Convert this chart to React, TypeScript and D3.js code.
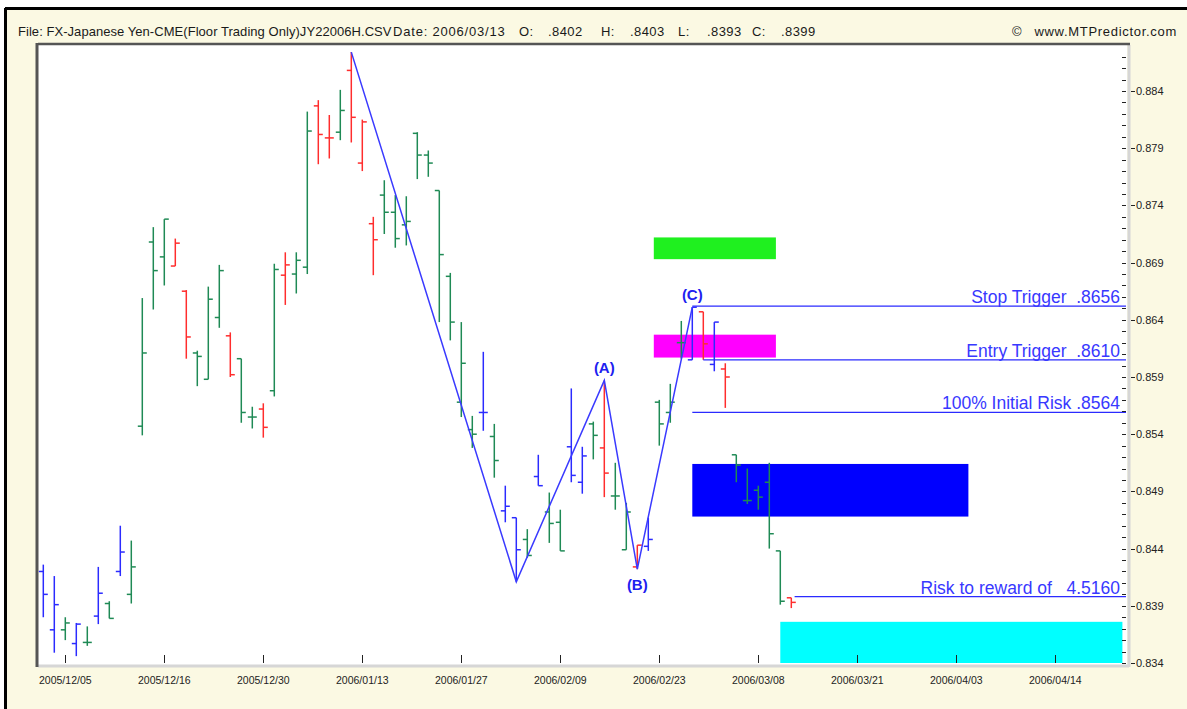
import React from 'react';
import * as d3 from 'd3';

// OHLC bars, one per trading day starting 2005/12/01
const opens = [
  0.8420, 0.8369, 0.8369, 0.8357, 0.8358, 0.8381, 0.8392, 0.8420, 0.8400, 0.8547,
  0.8708, 0.8695, 0.8687, 0.8665, 0.8611, 0.8588, 0.8642, 0.8626, 0.8606, 0.8555,
  0.8562, 0.8578, 0.8679, 0.8680, 0.8686, 0.8827, 0.8799, 0.8804, 0.8858, 0.8777,
  0.8724, 0.8749, 0.8734, 0.8723, 0.8803, 0.8784, 0.8753, 0.8678, 0.8568, 0.8544,
  0.8559, 0.8538, 0.8473, 0.8467, 0.8448, 0.8503, 0.8472, 0.8463, 0.8529, 0.8498,
  0.8549, 0.8528, 0.8486, 0.8439, 0.8424, 0.8442, 0.8568, 0.8559, 0.8620, 0.8605,
  0.8647, 0.8601, 0.8597, 0.8522, 0.8482, 0.8491, 0.8498, 0.8438, 0.8397,
];
const highs = [
  0.8426, 0.8416, 0.8380, 0.8375, 0.8372, 0.8424, 0.8394, 0.8460, 0.8447, 0.8659,
  0.8721, 0.8728, 0.8711, 0.8666, 0.8613, 0.8669, 0.8688, 0.8629, 0.8606, 0.8564,
  0.8567, 0.8689, 0.8699, 0.8699, 0.8822, 0.8832, 0.8819, 0.8841, 0.8874, 0.8815,
  0.8730, 0.8762, 0.8749, 0.8748, 0.8804, 0.8788, 0.8753, 0.8681, 0.8638, 0.8556,
  0.8612, 0.8549, 0.8495, 0.8467, 0.8457, 0.8522, 0.8489, 0.8474, 0.8580, 0.8529,
  0.8551, 0.8587, 0.8515, 0.8480, 0.8443, 0.8467, 0.8570, 0.8584, 0.8639, 0.8651,
  0.8647, 0.8638, 0.8602, 0.8522, 0.8510, 0.8495, 0.8515, 0.8438, 0.8397,
];
const lows = [
  0.8380, 0.8349, 0.8360, 0.8346, 0.8355, 0.8374, 0.8379, 0.8416, 0.8392, 0.8539,
  0.8649, 0.8670, 0.8687, 0.8606, 0.8582, 0.8588, 0.8633, 0.8590, 0.8550, 0.8545,
  0.8537, 0.8573, 0.8653, 0.8663, 0.8680, 0.8776, 0.8781, 0.8797, 0.8795, 0.8770,
  0.8679, 0.8715, 0.8703, 0.8705, 0.8763, 0.8765, 0.8638, 0.8622, 0.8555, 0.8528,
  0.8543, 0.8502, 0.8463, 0.8411, 0.8432, 0.8495, 0.8445, 0.8438, 0.8498, 0.8488,
  0.8518, 0.8485, 0.8474, 0.8439, 0.8422, 0.8438, 0.8530, 0.8550, 0.8606, 0.8605,
  0.8605, 0.8595, 0.8563, 0.8498, 0.8479, 0.8474, 0.8440, 0.8391, 0.8388,
];
const closes = [
  0.8400, 0.8391, 0.8375, 0.8374, 0.8358, 0.8401, 0.8379, 0.8437, 0.8424, 0.8611,
  0.8683, 0.8728, 0.8707, 0.8625, 0.8608, 0.8658, 0.8683, 0.8592, 0.8559, 0.8555,
  0.8546, 0.8684, 0.8688, 0.8692, 0.8805, 0.8802, 0.8799, 0.8823, 0.8817, 0.8813,
  0.8710, 0.8734, 0.8711, 0.8726, 0.8784, 0.8777, 0.8697, 0.8638, 0.8602, 0.8540,
  0.8559, 0.8517, 0.8477, 0.8439, 0.8434, 0.8495, 0.8462, 0.8438, 0.8504, 0.8521,
  0.8539, 0.8506, 0.8486, 0.8472, 0.8443, 0.8448, 0.8549, 0.8568, 0.8620, 0.8651,
  0.8619, 0.8638, 0.8590, 0.8513, 0.8482, 0.8485, 0.8453, 0.8394, 0.8393,
];
const barKinds = [
  'b', 'b', 'g', 'b', 'g', 'b', 'g', 'b', 'g', 'g',
  'g', 'g', 'r', 'r', 'g', 'g', 'g', 'r', 'g', 'g',
  'r', 'g', 'r', 'g', 'g', 'r', 'r', 'g', 'r', 'r',
  'r', 'g', 'g', 'g', 'g', 'g', 'g', 'g', 'g', 'g',
  'b', 'g', 'b', 'b', 'g', 'b', 'g', 'g', 'b', 'b',
  'g', 'r', 'g', 'g', 'r', 'b', 'g', 'g', 'g', 'b',
  'r', 'b', 'r', 'g', 'g', 'g', 'g', 'g', 'r',
];
const kindColor: Record<string, string> = { b: '#2b2bff', g: '#1f8a55', r: '#ff2d2d' };

// x axis (bar index of each labelled date)
const dateTicks = [2, 11, 20, 29, 38, 47, 56, 65, 74, 83, 92];
const dateLabels = [
  '2005/12/05', '2005/12/16', '2005/12/30', '2006/01/13', '2006/01/27', '2006/02/09',
  '2006/02/23', '2006/03/08', '2006/03/21', '2006/04/03', '2006/04/14',
];
const priceLabels = [0.834, 0.839, 0.844, 0.849, 0.854, 0.859, 0.864, 0.869, 0.874, 0.879, 0.884];

// header quote
const quoteKeys = ['O:', 'H:', 'L:', 'C:'];
const quoteValues = ['.8402', '.8403', '.8393', '.8399'];
const quoteX = [519, 601, 678, 752];

// ABC swing
const zigBars = [28, 43, 51, 54, 59];
const zigPrices = [0.8874, 0.8411, 0.8587, 0.8422, 0.8651];
const zigNames = ['', '', '(A)', '(B)', '(C)'];

// trade levels
const levelNames = ['Stop Trigger  .8656', 'Entry Trigger  .8610', '100% Initial Risk .8564', 'Risk to reward of   4.5160'];
const levelPrices = [0.8652, 0.8605, 0.8559, 0.8398];
const levelStart = [59, 60, 59, 68.3];

// coloured zones
const zoneFrom = [55.5, 55.5, 59, 67];
const zoneTo = [66.6, 66.6, 84.1, 98.1];
const zoneTop = [0.8712, 0.8627, 0.8514, 0.8376];
const zoneBottom = [0.8693, 0.8607, 0.8468, 0.834];
const zoneColors = ['#1ff01f', '#ff00ff', '#0000ff', '#00ffff'];

const FONT = 'Liberation Sans, Arial, sans-serif';

export default function App() {
  const W = 1187, H = 709;
  const plot = { left: 38, right: 1127, top: 45, bottom: 665 };

  const x = d3.scaleLinear().domain([0, 92]).range([43.3, 1055.3]);
  const y = d3.scaleLinear().domain([0.834, 0.884]).range([663, 91]);

  const minorTicks = d3.range(834, 888).map(v => v / 1000);
  const zigLine = d3.line<number>()
    .x(i => x(zigBars[i]))
    .y(i => y(zigPrices[i]));

  return (
    <svg width={W} height={H} style={{ position: 'absolute', left: 0, top: 0, display: 'block' }}
      fontFamily={FONT}>
      <rect x={0} y={0} width={W} height={H} fill="#ffffff" />
      <rect x={5} y={8} width={W - 5} height={H - 8} fill="#fbf9e3" />
      <line x1={5} x2={W} y1={8.5} y2={8.5} stroke="#000" strokeWidth={3} />
      <line x1={5.5} x2={5.5} y1={8} y2={H} stroke="#000" strokeWidth={3} />

      {/* header */}
      <g fontSize={13} fill="#1a1a1a" letterSpacing={0.4}>
        <text x={18} y={36} letterSpacing={0.05}>File: FX-Japanese Yen-CME(Floor Trading Only)JY22006H.CSV</text>
        <text x={393} y={36} letterSpacing={0.8}>Date: 2006/03/13</text>
        {quoteKeys.map((k, i) => (
          <g key={'q' + i}>
            <text x={quoteX[i]} y={36}>{k}</text>
            <text x={quoteX[i] + 29} y={36}>{quoteValues[i]}</text>
          </g>
        ))}
        <text x={1012} y={36}>©</text>
        <text x={1177} y={36} textAnchor="end" letterSpacing={0.7}>www.MTPredictor.com</text>
      </g>

      {/* plot area */}
      <rect x={plot.left} y={plot.top} width={plot.right - plot.left} height={plot.bottom - plot.top} fill="#fff" />

      {zoneColors.map((c, i) => (
        <rect key={'z' + i} x={x(zoneFrom[i])} width={x(zoneTo[i]) - x(zoneFrom[i])}
          y={y(zoneTop[i])} height={y(zoneBottom[i]) - y(zoneTop[i])} fill={c} />
      ))}

      {/* bars */}
      <g strokeWidth={1.5}>
        {opens.map((o, i) => {
          const cx = x(i);
          const col = kindColor[barKinds[i]];
          return (
            <g key={'b' + i} stroke={col}>
              <line x1={cx} x2={cx} y1={y(highs[i])} y2={y(lows[i])} />
              <line x1={cx - 4.5} x2={cx} y1={y(o)} y2={y(o)} />
              <line x1={cx} x2={cx + 4.5} y1={y(closes[i])} y2={y(closes[i])} />
            </g>
          );
        })}
      </g>

      {/* swing line */}
      <path d={zigLine(d3.range(zigBars.length)) || ''} fill="none" stroke="#3a3aff" strokeWidth={1.5} />
      {zigNames.map((n, i) => n ? (
        <text key={'zl' + i} x={x(zigBars[i])} textAnchor="middle" fontSize={15} fontWeight="bold" fill="#2020f0"
          y={i === 3 ? y(zigPrices[i]) + 21 : y(zigPrices[i]) - 7}>{n}</text>
      ) : null)}

      {/* levels */}
      {levelNames.map((n, i) => (
        <g key={'l' + i}>
          <line x1={x(levelStart[i])} x2={plot.right - 1} y1={y(levelPrices[i])} y2={y(levelPrices[i])}
            stroke="#2b2bff" strokeWidth={1.2} />
          <text x={1120} y={y(levelPrices[i]) - 3} textAnchor="end" fontSize={17.5} fill="#3838ff"
            xmlSpace="preserve">{n}</text>
        </g>
      ))}

      {/* frame */}
      <line x1={plot.left} x2={plot.right + 2} y1={plot.bottom + 1} y2={plot.bottom + 1} stroke="#d6d6d6" strokeWidth={3} />
      <line x1={plot.right + 2} x2={plot.right + 2} y1={plot.top} y2={plot.bottom + 2} stroke="#d6d6d6" strokeWidth={3} />
      <line x1={plot.left} x2={plot.right + 3} y1={plot.top - 1} y2={plot.top - 1} stroke="#555" strokeWidth={2.5} />
      <line x1={plot.left - 1} x2={plot.left - 1} y1={plot.top - 2} y2={plot.bottom + 2} stroke="#555" strokeWidth={3} />

      {/* right axis */}
      <g stroke="#222" strokeWidth={1}>
        {minorTicks.map((v, i) => (
          <line key={'mt' + i} x1={1122} x2={1126} y1={Math.round(y(v)) + 0.5} y2={Math.round(y(v)) + 0.5} />
        ))}
        {priceLabels.map((v, i) => (
          <line key={'pt' + i} x1={1131} x2={1135} y1={Math.round(y(v)) + 0.5} y2={Math.round(y(v)) + 0.5} />
        ))}
      </g>
      <g fontSize={11} fill="#222">
        {priceLabels.map((v, i) => (
          <text key={'pl' + i} x={1136} y={y(v) + 4}>{d3.format('.3f')(v)}</text>
        ))}
      </g>

      {/* bottom axis */}
      <g stroke="#222" strokeWidth={1}>
        {dateTicks.map((t, i) => (
          <line key={'dt' + i} x1={Math.round(x(t)) + 0.5} x2={Math.round(x(t)) + 0.5} y1={655} y2={663} />
        ))}
      </g>
      <g fontSize={10.5} fill="#222" textAnchor="middle">
        {dateTicks.map((t, i) => (
          <text key={'dl' + i} x={x(t)} y={684}>{dateLabels[i]}</text>
        ))}
      </g>
    </svg>
  );
}
